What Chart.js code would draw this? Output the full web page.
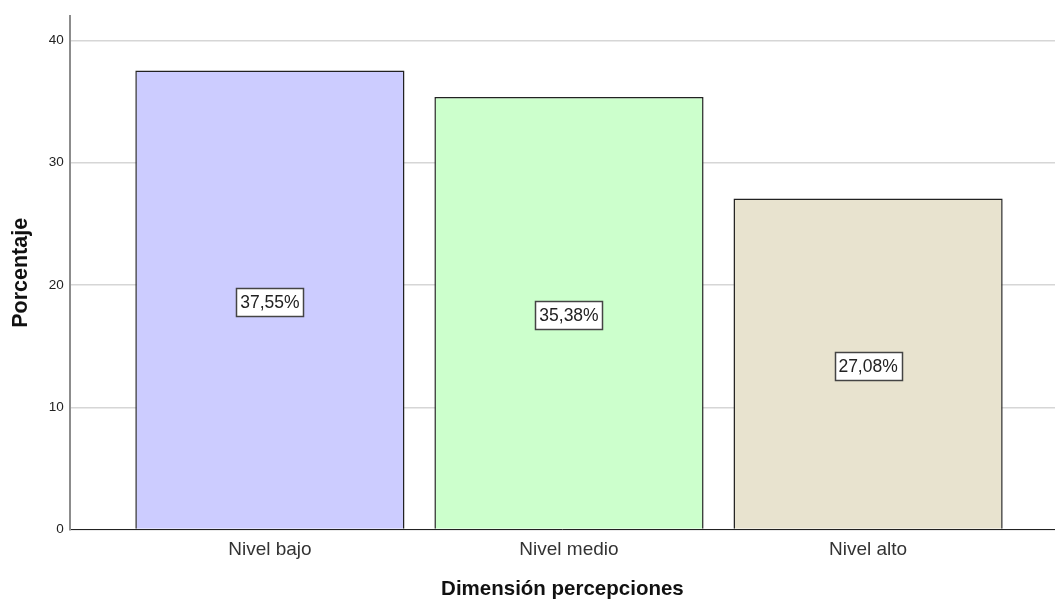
<!DOCTYPE html>
<html>
<head>
<meta charset="utf-8">
<script src="https://cdn.jsdelivr.net/npm/chart.js@4"></script>
<style>
  html, body { margin: 0; padding: 0; background: #fff; }
  #wrap { position: relative; width: 1055px; height: 602px; }
</style>
</head>
<body>
<div id="wrap"><canvas id="chart" width="1055" height="602"></canvas></div>
<script>
'use strict';

const categories = ['Nivel bajo', 'Nivel medio', 'Nivel alto'];
const percentages = [37.55, 35.38, 27.08];
const barColors = ['#ccccff', '#ccffcc', '#e8e3cf'];
const yTicks = [0, 10, 20, 30, 40];

const FONT = '"Liberation Sans", Arial, sans-serif';

// Boxed value labels in the middle of each bar
const valueLabels = {
  id: 'valueLabels',
  afterDatasetsDraw(chart) {
    const { ctx } = chart;
    const meta = chart.getDatasetMeta(0);
    ctx.save();
    ctx.font = '17.5px ' + FONT;
    ctx.textAlign = 'center';
    ctx.textBaseline = 'middle';
    meta.data.forEach((bar, i) => {
      const text = percentages[i].toFixed(2).replace('.', ',') + '%';
      const cx = bar.x;
      const cy = (bar.y + bar.base) / 2 + 2.5;
      const w = Math.round(ctx.measureText(text).width + 8);
      const h = 28;
      const left = Math.round(cx - w / 2) + 0.5;
      const top = Math.round(cy - h / 2) + 0.5;
      ctx.fillStyle = '#ffffff';
      ctx.fillRect(left, top, w, h);
      ctx.strokeStyle = '#444444';
      ctx.lineWidth = 1.5;
      ctx.strokeRect(left, top, w, h);
      ctx.fillStyle = '#222222';
      ctx.fillText(text, cx, cy + 1);
    });
    ctx.restore();
  }
};

new Chart(document.getElementById('chart'), {
  type: 'bar',
  data: {
    datasets: [{
      data: percentages.map((v, i) => ({ x: i + 1, y: v })),
      backgroundColor: barColors,
      borderColor: '#222222',
      borderWidth: 1.5,
      borderSkipped: 'bottom',
      barPercentage: 0.9,
      categoryPercentage: 1,
    }],
  },
  options: {
    responsive: false,
    animation: false,
    layout: { padding: { top: 16, right: 0, left: 8, bottom: 0 } },
    plugins: {
      legend: { display: false },
      tooltip: { enabled: false },
    },
    scales: {
      x: {
        type: 'linear',
        offset: false,
        min: 0.331,
        max: 3.625,
        afterBuildTicks: axis => { axis.ticks = categories.map((_, i) => ({ value: i + 1 })); },
        ticks: {
          callback: value => categories[value - 1],
          color: '#333333',
          font: { family: FONT, size: 19 },
          padding: 9,
          maxRotation: 0,
        },
        grid: { display: false, drawTicks: false },
        border: { color: '#222222', width: 1 },
        title: {
          display: true,
          text: 'Dimensión percepciones',
          color: '#111111',
          font: { family: FONT, size: 20.5, weight: 'bold' },
          padding: { top: 7, bottom: 0 },
        },
      },
      y: {
        min: 0,
        max: 42,
        afterBuildTicks: axis => { axis.ticks = yTicks.map(v => ({ value: v })); },
        ticks: {
          color: '#222222',
          font: { family: FONT, size: 13.5 },
          padding: 6,
        },
        grid: { color: '#d6d6d6', lineWidth: 1.5, drawTicks: false },
        border: { color: '#8c8c8c', width: 2 },
        title: {
          display: true,
          text: 'Porcentaje',
          color: '#111111',
          font: { family: FONT, size: 21.5, weight: 'bold' },
          padding: { top: 0, bottom: 9 },
        },
      },
    },
  },
  plugins: [valueLabels],
});
</script>
</body>
</html>
